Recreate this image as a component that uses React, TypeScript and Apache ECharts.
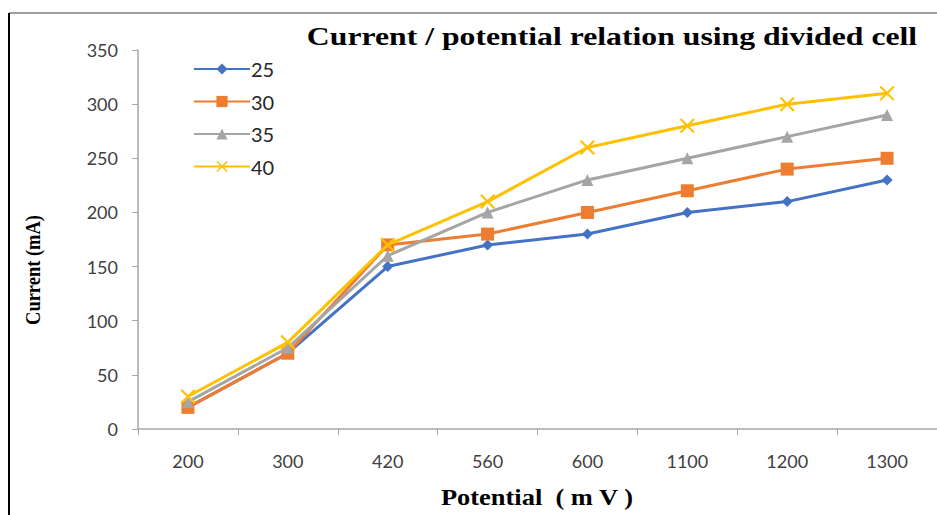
import React, { useEffect, useRef } from "react";
import * as echarts from "echarts";

const categories = ["200", "300", "420", "560", "600", "1100", "1200", "1300"];
const seriesNames = ["25", "30", "35", "40"];
const s25 = [20, 70, 150, 170, 180, 200, 210, 230];
const s30 = [20, 70, 170, 180, 200, 220, 240, 250];
const s35 = [25, 75, 160, 200, 230, 250, 270, 290];
const s40 = [30, 80, 170, 210, 260, 280, 300, 310];
const colors = ["#4472C4", "#ED7D31", "#A5A5A5", "#FFC000"];

const X_SYMBOL =
  "path://M1,0 L5,4 L9,0 L10,1 L6,5 L10,9 L9,10 L5,6 L1,10 L0,9 L4,5 L0,1 Z";

export default function App() {
  const ref = useRef<HTMLDivElement>(null);
  useEffect(() => {
    if (!ref.current) return;
    const chart = echarts.init(ref.current, undefined, { renderer: "svg" });
    const data = [s25, s30, s35, s40];
    const symbols = ["diamond", "rect", "triangle", X_SYMBOL];
    const sizes = [11, 13, 12, 15];
    chart.setOption({
      animation: false,
      backgroundColor: "#ffffff",
      legend: {
        orient: "vertical",
        left: 188,
        top: 54,
        itemWidth: 56,
        itemHeight: 14,
        itemGap: 12.5,
        data: seriesNames,
        textStyle: { fontFamily: "Lato", fontSize: 20, color: "#262626", padding: [0, 0, 0, -4] },
      },
      grid: { left: 138, right: 0, top: 50, bottom: 86 },
      xAxis: {
        type: "category",
        data: categories,
        boundaryGap: true,
        axisLine: { show: true, lineStyle: { color: "#A6A6A6", width: 1.5 } },
        axisTick: { show: true, length: 6, lineStyle: { color: "#A6A6A6" } },
        axisLabel: { margin: 23, fontFamily: "Lato", fontSize: 18, color: "#404040" },
      },
      yAxis: {
        type: "value",
        min: 0,
        max: 350,
        interval: 50,
        axisLine: { show: true, lineStyle: { color: "#A6A6A6", width: 1.5 } },
        axisTick: { show: true, length: 6, lineStyle: { color: "#A6A6A6" } },
        splitLine: { show: false },
        axisLabel: { margin: 20, fontFamily: "Lato", fontSize: 18, color: "#404040" },
      },
      graphic: [
        {
          type: "line",
          shape: { x1: 9, y1: 13, x2: 937, y2: 13 },
          style: { stroke: "#7f7f7f", lineWidth: 1.5 },
        },
        {
          type: "line",
          shape: { x1: 9, y1: 13, x2: 9, y2: 515 },
          style: { stroke: "#000", lineWidth: 2 },
        },
        {
          type: "text",
          x: 612,
          y: 36,
          scaleX: 1.22,
          style: {
            text: "Current / potential relation using divided cell",
            fontFamily: "Liberation Serif",
            fontWeight: "bold",
            fontSize: 26,
            fill: "#000",
            align: "center",
            verticalAlign: "middle",
          },
        },
        {
          type: "text",
          x: 32,
          y: 270,
          rotation: Math.PI / 2,
          scaleX: 0.84,
          style: {
            text: "Current (mA)",
            fontFamily: "Liberation Serif",
            fontWeight: "bold",
            fontSize: 22,
            fill: "#000",
            align: "center",
            verticalAlign: "middle",
          },
        },
        {
          type: "text",
          x: 537,
          y: 497,
          scaleX: 1.15,
          style: {
            text: "Potential  ( m V )",
            fontFamily: "Liberation Serif",
            fontWeight: "bold",
            fontSize: 23,
            fill: "#000",
            align: "center",
            verticalAlign: "middle",
          },
        },
      ],
      series: seriesNames.map((name, i) => ({
        name,
        type: "line",
        data: data[i],
        symbol: symbols[i],
        symbolSize: sizes[i],
        showAllSymbol: true,
        lineStyle: { color: colors[i], width: 3 },
        itemStyle: { color: colors[i] },
        emphasis: { disabled: true },
        z: 2 + i,
      })),
    });
    return () => chart.dispose();
  }, []);
  return (
    <div
      ref={ref}
      style={{ position: "fixed", left: 0, top: 0, width: 937, height: 515 }}
    />
  );
}
